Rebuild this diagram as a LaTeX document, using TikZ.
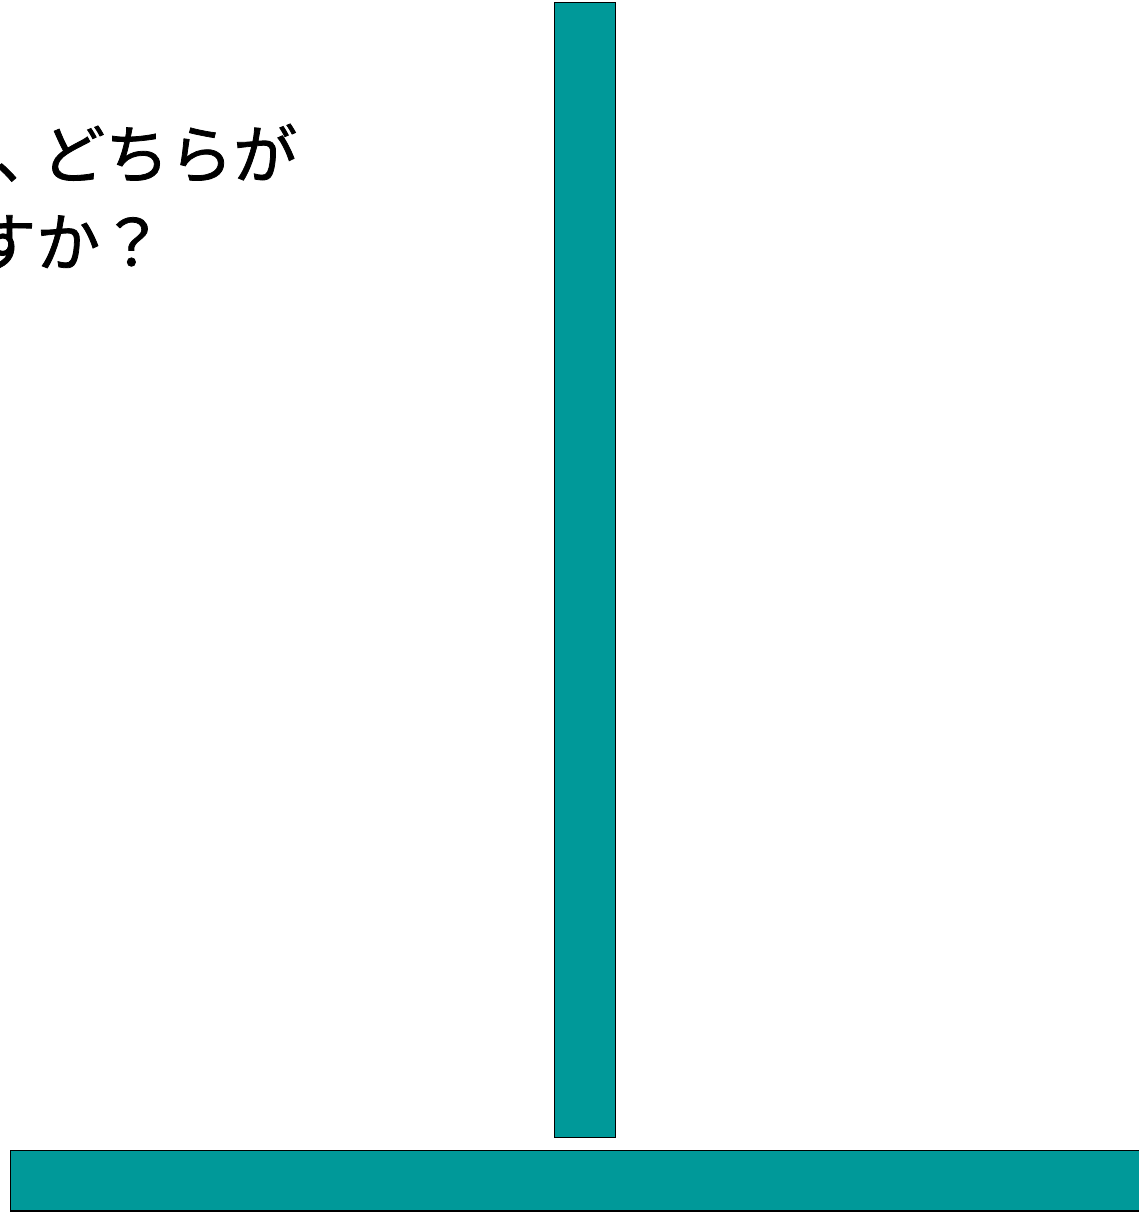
\documentclass[tikz,border=0pt]{standalone}
\usepackage{fontspec}
\newfontfamily\jp[FakeBold=1.2]{Noto Sans CJK JP}
\definecolor{teal99}{HTML}{009999}
\tikzset{
  bar/.style={draw=black, line width=1.5pt, fill=teal99},
  qtext/.style={font=\jp\fontsize{64}{90}\selectfont, inner sep=0pt, anchor=base west}
}
\begin{document}
\begin{tikzpicture}[x=1pt,y=-1pt]
\useasboundingbox (0,0) rectangle (1138,1212);
\fill[white] (0,0) rectangle (1138,1212);
\node[qtext] (line1) at (-6,178) {、\kern-17pt どちらが};
\node[qtext] (line2) at (-28,266) {すか？};
\draw[bar] (554.5,2.5) rectangle (615.5,1137.5);
\draw[bar] (10.5,1150.5) rectangle (1145,1211);
\end{tikzpicture}
\end{document}
